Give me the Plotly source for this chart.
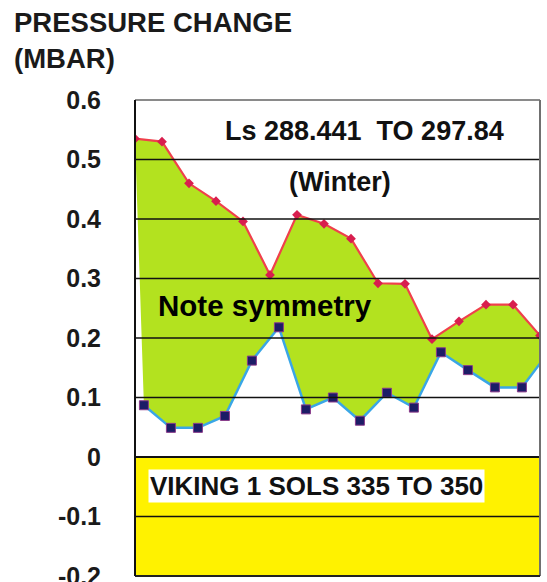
import plotly.graph_objects as go

# ---- data ----
sols = [335, 336, 337, 338, 339, 340, 341, 342, 343, 344, 345, 346, 347, 348, 349, 350]
upper_vals = [0.535, 0.530, 0.460, 0.430, 0.396, 0.306, 0.407, 0.392, 0.367, 0.292,
              0.291, 0.198, 0.228, 0.256, 0.256, 0.204]
lower_vals = [0.087, 0.049, 0.049, 0.069, 0.162, 0.218, 0.080, 0.100, 0.061, 0.108,
              0.083, 0.176, 0.146, 0.117, 0.117, 0.177]
lower_offset = 0.33  # second series plotted slightly shifted
tick_vals = [0.6, 0.5, 0.4, 0.3, 0.2, 0.1, 0, -0.1, -0.2]
tick_text = ["0.6", "0.5", "0.4", "0.3", "0.2", "0.1", "0", "-0.1", "-0.2"]
grid_vals = [0.5, 0.4, 0.3, 0.2, 0.1, -0.1]

lower_x = [s + lower_offset for s in sols]

FONT = "Liberation Sans, Arial, sans-serif"
GREEN = "#b3e21f"
YELLOW = "#fff200"

fig = go.Figure()

# invisible base for the fill
fig.add_trace(go.Scatter(x=lower_x, y=lower_vals, mode="lines",
                         line=dict(width=0, color="rgba(0,0,0,0)"),
                         hoverinfo="skip", showlegend=False))
# upper series with fill to the lower series
fig.add_trace(go.Scatter(x=sols, y=upper_vals, mode="lines+markers",
                         fill="tonexty", fillcolor=GREEN,
                         line=dict(color="#f0404c", width=2.2),
                         marker=dict(symbol="diamond", size=7.5, color="#d81e4e"),
                         showlegend=False))
# visible lower series
fig.add_trace(go.Scatter(x=lower_x, y=lower_vals, mode="lines+markers",
                         line=dict(color="#3aa6e6", width=2.5),
                         marker=dict(symbol="square", size=9, color="#1c1c66",
                                     line=dict(color="#8a3a8a", width=1)),
                         cliponaxis=False, showlegend=False))

shapes = []
# yellow band below zero
shapes.append(dict(type="rect", xref="paper", yref="y", x0=0, x1=1, y0=-0.2, y1=0,
                   fillcolor=YELLOW, line=dict(width=0), layer="below"))
# grid lines above the fill
for g in grid_vals:
    shapes.append(dict(type="line", xref="paper", yref="y", x0=0, x1=1, y0=g, y1=g,
                       line=dict(color="#111111", width=1.5), layer="above"))
shapes.append(dict(type="line", xref="paper", yref="y", x0=0, x1=1, y0=0, y1=0,
                   line=dict(color="#111111", width=2), layer="above"))
# frame
shapes.append(dict(type="line", xref="paper", yref="paper", x0=0, x1=1, y0=1, y1=1,
                   line=dict(color="#8a8a8a", width=2), layer="above"))
shapes.append(dict(type="line", xref="paper", yref="paper", x0=1, x1=1, y0=0, y1=1,
                   line=dict(color="#707070", width=2), layer="above"))
shapes.append(dict(type="line", xref="paper", yref="paper", x0=0, x1=1, y0=0, y1=0,
                   line=dict(color="#222222", width=2), layer="above"))
shapes.append(dict(type="line", xref="paper", yref="paper", x0=0, x1=0, y0=0, y1=1,
                   line=dict(color="#111111", width=2), layer="above"))

annotations = [
    dict(text="<b>PRESSURE CHANGE</b>", xref="paper", yref="paper", x=-0.304, y=1.162,
         xanchor="left", yanchor="middle", showarrow=False,
         font=dict(size=27.5, color="#1a1a1a")),
    dict(text="<b>(MBAR)</b>", xref="paper", yref="paper", x=-0.304, y=1.088,
         xanchor="left", yanchor="middle", showarrow=False,
         font=dict(size=27.5, color="#1a1a1a")),
    dict(text="<b>Ls 288.441\u00a0 TO 297.84</b>", xref="paper", yref="paper",
         x=(364 - 135) / 405, y=(576 - 131) / 476,
         xanchor="center", yanchor="middle", showarrow=False,
         font=dict(size=27, color="#111111")),
    dict(text="<b>(Winter)</b>", xref="paper", yref="paper",
         x=(340 - 135) / 405, y=(576 - 182) / 476,
         xanchor="center", yanchor="middle", showarrow=False,
         font=dict(size=27, color="#111111")),
    dict(text="<b>Note symmetry</b>", xref="paper", yref="paper",
         x=(156 - 135) / 405, y=(576 - 305) / 476,
         xanchor="left", yanchor="middle", showarrow=False,
         font=dict(size=29.5, color="#000000")),
    dict(text="<b>VIKING 1 SOLS 335 TO 350</b>", xref="paper", yref="paper",
         x=(148 - 135) / 405, y=(576 - 486) / 476,
         xanchor="left", yanchor="middle", showarrow=False,
         bgcolor="#ffffff", borderpad=1,
         font=dict(size=26, color="#111111")),
]

fig.update_layout(
    width=547, height=582,
    margin=dict(l=135, r=7, t=100, b=6, autoexpand=False),
    paper_bgcolor="#ffffff", plot_bgcolor="#ffffff",
    font=dict(family=FONT),
    xaxis=dict(range=[sols[0], sols[-1]], showgrid=False, zeroline=False,
               showticklabels=False, ticks="", showline=False, fixedrange=True,
               automargin=False),
    yaxis=dict(range=[-0.2, 0.6], tickvals=tick_vals, ticktext=tick_text,
               showgrid=False, zeroline=False, showline=False, ticks="",
               ticklabelstandoff=33, ticklabeloverflow="allow", automargin=False,
               tickfont=dict(size=25, color="#1a1a1a", family=FONT, weight="bold"),
               fixedrange=True),
    shapes=shapes,
    annotations=annotations,
    showlegend=False,
)

fig.write_html("out.html", config={"displayModeBar": False},
               post_script="document.body.style.margin='0';document.body.style.overflow='hidden';")
